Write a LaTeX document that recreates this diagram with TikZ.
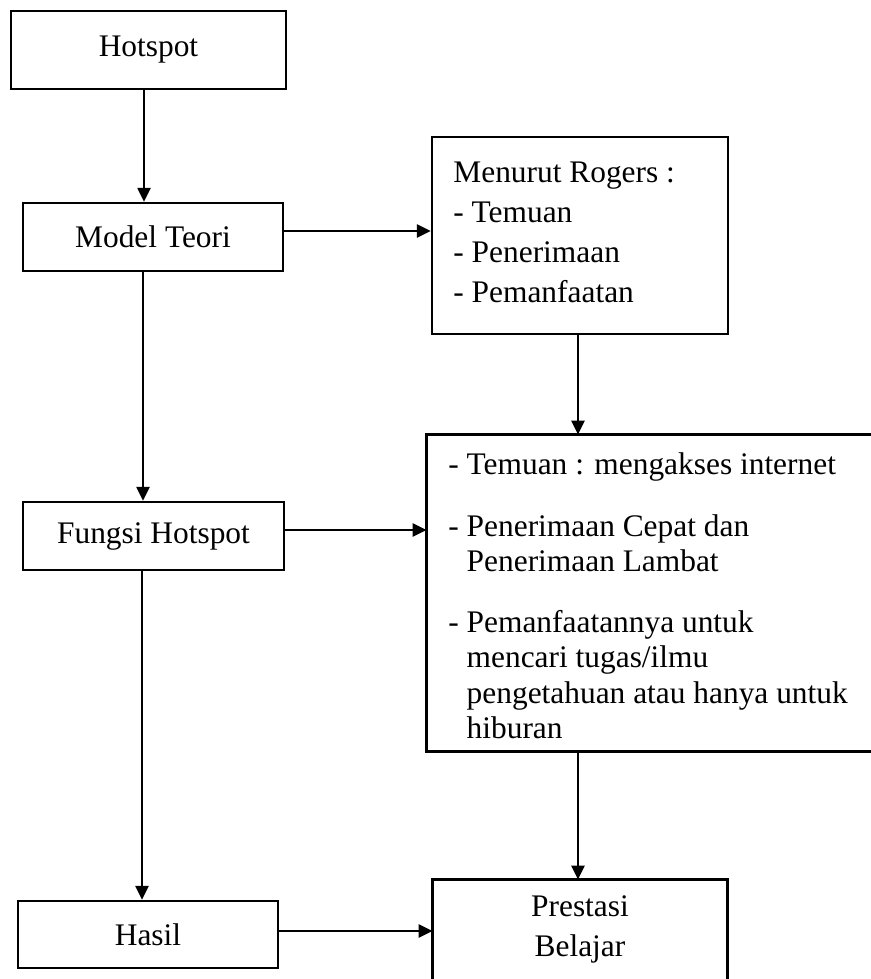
\documentclass[tikz,border=0pt]{standalone}
\usepackage{fontspec}
\setmainfont{Liberation Serif}
\usetikzlibrary{arrows.meta}
\tikzset{
  box/.style={draw, line width=1.2pt, rectangle, inner sep=0pt, font=\fontsize{15.7}{20}\selectfont, align=center},
  openbox/.style={rectangle, inner sep=0pt, font=\fontsize{15.7}{20}\selectfont, align=center},
  txt/.style={inner sep=0pt, align=left, anchor=north west},
  side/.style={line width=1.2pt},
  arr/.style={line width=1.2pt, -{Triangle[length=7pt,width=6.5pt]}},
}
\begin{document}
\begin{tikzpicture}[x=0.5pt,y=-0.5pt]
\useasboundingbox (0,0) rectangle (871,979);
% boxes
\node[box, minimum width=137.5pt, minimum height=39pt] (hot) at (148.5,50) {Hotspot};
\node[box, minimum width=130pt, minimum height=34pt] (model) at (153,237) {Model Teori};
\node[box, minimum width=148pt, minimum height=98.5pt] (rogers) at (580,235.5) {};
\node[txt, font=\fontsize{15.7}{20}\selectfont] (rogerstxt) at (453,161.5)
  {Menurut Rogers :\\- Temuan\\- Penerimaan\\- Pemanfaatan};
\node[box, minimum width=130.5pt, minimum height=34pt] (fungsi) at (153.5,536) {Fungsi Hotspot};
\node[openbox, minimum width=222pt, minimum height=158pt] (big) at (649,593) {};
\draw[side] (big.north east) -- (big.north west) -- (big.south west) -- (big.south east);
\node[txt, font=\fontsize{15.7}{17.7}\selectfont] (bigtxt) at (448,452)
  {- Temuan : mengakses internet\\[13.5pt]
   - Penerimaan Cepat dan\\
   \phantom{- }Penerimaan Lambat\\[12.5pt]
   - Pemanfaatannya untuk\\
   \phantom{- }mencari tugas/ilmu\\
   \phantom{- }pengetahuan atau hanya untuk\\
   \phantom{- }hiburan};
\node[box, minimum width=130pt, minimum height=33.5pt] (hasil) at (148,934.5) {Hasil};
\node[openbox, minimum width=147pt, minimum height=49.5pt] (prestasi) at (580,929.5) {Prestasi\\Belajar};
\draw[side] (prestasi.south west) -- (prestasi.north west) -- (prestasi.north east) -- (prestasi.south east);
% connector guides
\coordinate (c1) at (144,0);
\coordinate (c2) at (0,231);
\coordinate (c3) at (143,0);
\coordinate (c4) at (578,0);
\coordinate (c5) at (0,530);
\coordinate (c6) at (142,0);
\coordinate (c7) at (0,931);
% connectors
\draw[arr] (hot.south -| c1) -- (model.north -| c1);
\draw[arr] (model.east |- c2) -- (rogers.west |- c2);
\draw[arr] (model.south -| c3) -- (fungsi.north -| c3);
\draw[arr] (rogers.south -| c4) -- (big.north -| c4);
\draw[arr] (fungsi.east |- c5) -- (big.west |- c5);
\draw[arr] (fungsi.south -| c6) -- (hasil.north -| c6);
\draw[arr] (big.south -| c4) -- (prestasi.north -| c4);
\draw[arr] (hasil.east |- c7) -- (prestasi.west |- c7);
\end{tikzpicture}
\end{document}
